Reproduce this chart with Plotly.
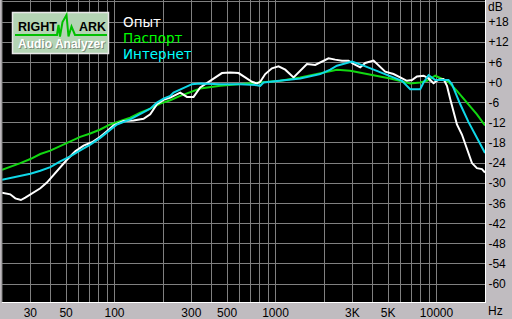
import plotly.graph_objects as go

# ---- data ----
opyt_f = [20, 22.5, 24.2, 26.2, 27.9, 30.7, 34.6, 38.0, 41.8, 46.0, 50.6, 57.0, 64.2, 72.4, 81.5, 89.7, 98.6,
          113.7, 131.2, 151.4, 166.6, 183.4, 201.5, 221.8, 255.9, 281.7, 309.5, 340.6, 393, 464.7, 523.3, 589.2,
          648.2, 713.5, 766.3, 803.5, 863, 949.7, 1044, 1149, 1294, 1424, 1567, 1764, 1987, 2134, 2349, 2585,
          2841, 3052, 3358, 3607, 4061, 4363, 4801, 5408, 5951, 6548, 7035, 7556, 8305, 8922, 9581, 10290,
          11050, 11610, 12170, 12750, 13390, 14380, 15450, 16600, 17820, 19140, 20000]
opyt_db = [-32.8, -33.3, -34.5, -35, -34.3, -33, -31.5, -29.8, -27.5, -25, -23, -20.5, -18.8, -17.8, -16.2, -14.5, -12.8,
           -11.5, -11.3, -10.8, -9.5, -6.5, -5.2, -4.5, -3, -4.3, -4.3, -1.5, 0.5, 2.8, 3, 2.8,
           1.5, 0.2, -0.3, 0.2, 2.5, 4.2, 4.8, 3.8, 1.5, 3.5, 5.5, 5.2, 6.6, 7.2, 6.8, 6.5,
           6.5, 5.5, 4.5, 5.8, 6.5, 5.2, 3.2, 2.5, 1.5, 0.5, 0.7, 1.8, 2, 1.2, -0.2, 0.8,
           1, -1, -5, -8.5, -12.5, -15.5, -19.5, -24, -25.5, -25.8, -26.8]

pasport_f = [20, 22.5, 26, 30, 34.6, 39.9, 46, 53.1, 61.2, 70.7, 81.5, 94, 108.5, 125.2, 144.4, 166.6, 192.2,
             221.8, 255.9, 340.6, 453.5, 603.6, 803.5, 1070, 1424, 1895, 2187, 2407, 2911, 3520, 4264, 5157,
             6237, 6865, 7920, 8720, 9815, 10800, 11870, 13390, 15450, 17820, 20000]
pasport_db = [-26, -25.2, -24, -22.8, -21.3, -20.3, -19, -17.5, -16.2, -15.2, -14, -12.5, -11.5, -10.5, -9, -7.8, -6.3,
              -5.3, -4, -1.8, -1, -0.5, -0.2, 0.5, 1.5, 2.8, 3.5, 3.8, 3.5, 2.8, 2, 1.2,
              0.2, -0.3, 0, 0.5, 2, 1, 0.2, -2.5, -6, -9.5, -12.8]

internet_f = [20, 22.5, 26, 30, 34.6, 39.9, 46, 53.1, 61.2, 70.7, 81.5, 94, 103.5, 125.2, 144.4, 166.6, 183.4,
              201.5, 221.8, 232.6, 302.5, 340.6, 453.5, 603.6, 766.3, 803.5, 842.3, 1070, 1424, 1895, 2187, 2407,
              2983, 3520, 4264, 5157, 6098, 6865, 7920, 8305, 8922, 9815, 11870, 12460, 14040, 15810, 17820, 20000]
internet_db = [-29, -28.5, -27.8, -27.2, -26.3, -25.2, -23.5, -22, -20.2, -18.5, -16.5, -14, -12.5, -11, -9.5, -7.8, -6,
               -4.8, -4, -3, -0.5, -0.3, -0.5, -0.5, -0.8, -1, 0, 0.5, 1.2, 2.5, 3.8, 5,
               6.2, 5, 3.5, 2, 0.5, -2, -2, 0, 2.2, 0.7, 0.7, -0.5, -6.5, -11.8, -16.5, -21]

series_names = ["Опыт", "Паспорт", "Интернет"]

x_grid = [20, 30, 40, 50, 60, 70, 80, 90, 100, 200, 300, 400, 500, 600, 700, 800, 900,
          1000, 2000, 3000, 4000, 5000, 6000, 7000, 8000, 9000, 10000, 20000]
x_labels = {30: "30", 50: "50", 100: "100", 300: "300", 500: "500", 1000: "1000",
            3000: "3K", 5000: "5K", 10000: "10000"}
y_grid = [-60, -54, -48, -42, -36, -30, -24, -18, -12, -6, 0, 6, 12, 18, 24]
y_labels = {-60: "-60", -54: "-54", -48: "-48", -42: "-42", -36: "-36", -30: "-30", -24: "-24",
            -18: "-18", -12: "-12", -6: "-6", 0: "+0", 6: "+6", 12: "+12", 18: "+18"}

# ---- layout geometry (pixels) ----
W, H = 512, 319
L, R, T, B = 2, 27, 0, 17
PW, PH = W - L - R, H - T - B


def px(x):
    return (x - L) / PW


def py(y):
    return 1 - (y - T) / PH


fig = go.Figure()
fig.add_trace(go.Scatter(x=pasport_f, y=pasport_db, mode="lines", name=series_names[1],
                         line=dict(color="#12d812", width=2), showlegend=False))
fig.add_trace(go.Scatter(x=opyt_f, y=opyt_db, mode="lines", name=series_names[0],
                         line=dict(color="#ffffff", width=2), showlegend=False))
fig.add_trace(go.Scatter(x=internet_f, y=internet_db, mode="lines", name=series_names[2],
                         line=dict(color="#10d8e8", width=2), showlegend=False))

tick_font = dict(family="Liberation Sans, Arial, sans-serif", size=12, color="#000000")

fig.update_layout(
    width=W, height=H,
    margin=dict(l=L, r=R, t=T, b=B, pad=0),
    paper_bgcolor="#c0bcc0",
    plot_bgcolor="#000000",
    xaxis=dict(type="log", range=[1.30103, 4.30103],
               tickmode="array", tickvals=x_grid,
               ticktext=[x_labels.get(v, "") for v in x_grid],
               showgrid=True, gridcolor="#808080", gridwidth=1,
               showline=True, linecolor="#ffffff", linewidth=1,
               ticks="", tickfont=tick_font, zeroline=False, fixedrange=True),
    yaxis=dict(range=[-65.36, 24.55], side="right",
               tickmode="array", tickvals=y_grid,
               ticktext=[y_labels.get(v, "") for v in y_grid],
               showgrid=True, gridcolor="#808080", gridwidth=1,
               showline=True, linecolor="#ffffff", linewidth=1,
               ticks="", tickfont=tick_font, zeroline=False, fixedrange=True),
    showlegend=False,
)

# left border
fig.add_shape(type="line", xref="paper", yref="paper", x0=0, x1=0, y0=0, y1=1,
              line=dict(color="#808080", width=1))

# axis unit labels
fig.add_annotation(text="dB", xref="paper", yref="paper", x=px(486), y=py(7.5),
                   xanchor="left", yanchor="middle", showarrow=False, font=tick_font)
fig.add_annotation(text="Hz", xref="paper", yref="paper", x=px(486), y=py(311),
                   xanchor="left", yanchor="middle", showarrow=False, font=tick_font)

# legend texts
leg_font = "DejaVu Sans, Arial, sans-serif"
for name, col, yy in [(series_names[0], "#ffffff", 22), (series_names[1], "#00ff00", 38),
                      (series_names[2], "#00ffff", 54)]:
    fig.add_annotation(text=name, xref="paper", yref="paper", x=px(121), y=py(yy),
                       xanchor="left", yanchor="middle", showarrow=False,
                       font=dict(family=leg_font, size=13.5, color=col))

# logo
fig.add_shape(type="rect", xref="paper", yref="paper", x0=px(12.5), x1=px(108.5), y0=py(53.5), y1=py(12.5),
              fillcolor="#b4d4b4", line=dict(color="#e8e8e8", width=1.5), layer="above")
wave_x = [15, 57, 58.5, 60, 62.5, 66.5, 68.5, 71.5, 75, 107]
wave_y = [35, 35, 25, 36.5, 22, 15, 36.5, 26.5, 35, 35]
path = "M " + " L ".join(f"{px(a):.5f},{py(b):.5f}" for a, b in zip(wave_x, wave_y))
fig.add_shape(type="path", xref="paper", yref="paper", path=path,
              line=dict(color="#00c000", width=2), layer="above")
fig.add_annotation(text="<b>RIGHT</b>", xref="paper", yref="paper", x=px(16), y=py(27.5),
                   xanchor="left", yanchor="middle", showarrow=False,
                   font=dict(family="Liberation Sans, Arial", size=12.5, color="#000000"))
fig.add_annotation(text="<b>ARK</b>", xref="paper", yref="paper", x=px(76.5), y=py(27.5),
                   xanchor="left", yanchor="middle", showarrow=False,
                   font=dict(family="Liberation Sans, Arial", size=12.5, color="#000000"))
fig.add_annotation(text="<b>Audio Analyzer</b>", xref="paper", yref="paper", x=px(16.5), y=py(44.5),
                   xanchor="left", yanchor="middle", showarrow=False,
                   font=dict(family="Liberation Sans, Arial", size=12, color="#7a8a7a"))
fig.add_annotation(text="<b>Audio Analyzer</b>", xref="paper", yref="paper", x=px(15.5), y=py(43.5),
                   xanchor="left", yanchor="middle", showarrow=False,
                   font=dict(family="Liberation Sans, Arial", size=12, color="#ffffff"))

fig.write_html("out.html")
